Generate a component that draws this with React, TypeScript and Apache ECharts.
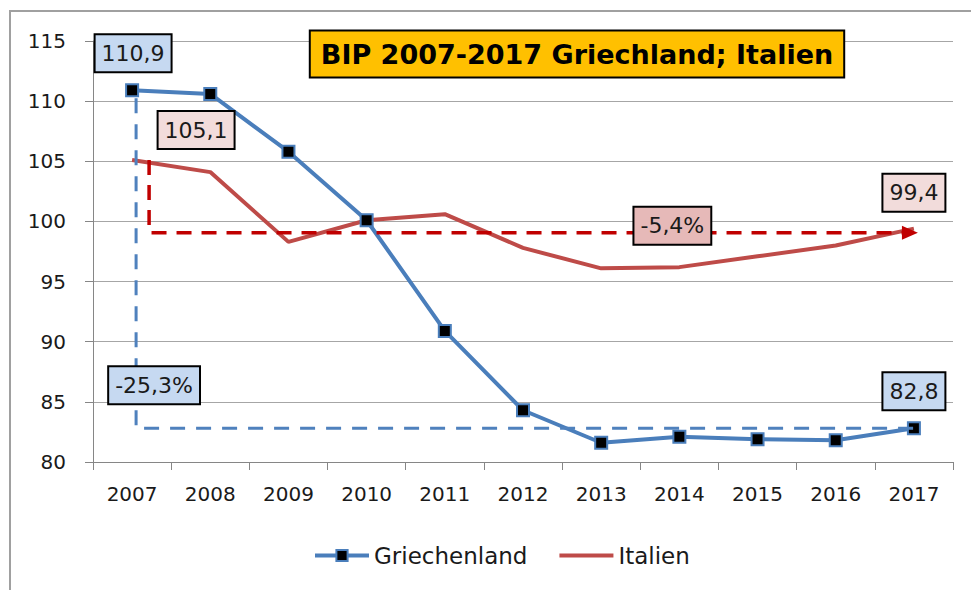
import React, { useEffect, useRef } from "react";
import * as echarts from "echarts";

const years = ["2007", "2008", "2009", "2010", "2011", "2012", "2013", "2014", "2015", "2016", "2017"];
const griechenland = [110.9, 110.6, 105.8, 100.1, 90.9, 84.3, 81.6, 82.1, 81.9, 81.8, 82.8];
const italien = [105.1, 104.1, 98.3, 100.1, 100.6, 97.8, 96.1, 96.2, 97.1, 98.0, 99.4];
const titleText = "BIP 2007-2017 Griechland; Italien";
const changeGR = "-25,3%";
const changeIT = "-5,4%";

const FONT = "'DejaVu Sans', sans-serif";
const BLUE = "#4A7EBB";
const RED = "#BE4B48";
const DASH_BLUE = "#4F81BD";
const DASH_RED = "#C00000";

const fmt = (v: number) => v.toFixed(1).replace(".", ",");

export default function App() {
  const ref = useRef<HTMLDivElement>(null);
  useEffect(() => {
    if (!ref.current) return;
    const chart = echarts.init(ref.current, undefined, { renderer: "svg" });
    chart.setOption({
      animation: false,
      backgroundColor: "#ffffff",
      textStyle: { fontFamily: FONT },
      grid: { left: 93, right: 18, top: 41, bottom: 128 },
      legend: {
        left: 308,
        top: 539,
        itemWidth: 54,
        itemHeight: 14,
        itemGap: 30,
        lineStyle: { width: 4 },
        textStyle: { fontFamily: FONT, fontSize: 23, color: "#1a1a1a" },
        data: [
          { name: "Griechenland" },
          { name: "Italien", itemStyle: { color: "rgba(0,0,0,0)", borderWidth: 0, borderColor: "rgba(0,0,0,0)" } },
        ],
      },
      xAxis: {
        type: "category",
        data: years,
        boundaryGap: true,
        axisLine: { lineStyle: { color: "#868686", width: 1 } },
        axisTick: { show: true, length: 8, lineStyle: { color: "#868686" } },
        axisLabel: { fontFamily: FONT, fontSize: 20, color: "#1a1a1a", margin: 22 },
        splitLine: { show: false },
      },
      yAxis: {
        type: "value",
        min: 80,
        max: 115,
        interval: 5,
        axisLine: { show: true, lineStyle: { color: "#868686", width: 1 } },
        axisTick: { show: true, length: 8, lineStyle: { color: "#868686" } },
        axisLabel: { fontFamily: FONT, fontSize: 20, color: "#1a1a1a", margin: 27 },
        splitLine: { show: true, lineStyle: { color: "#A6A6A6", width: 1 } },
      },
      series: [
        {
          name: "Griechenland",
          type: "line",
          data: griechenland,
          symbol: "rect",
          symbolSize: 12,
          lineStyle: { color: BLUE, width: 4 },
          itemStyle: { color: "#000000", borderColor: BLUE, borderWidth: 2 },
          z: 3,
        },
        {
          name: "Italien",
          type: "line",
          data: italien,
          symbol: "none",
          showSymbol: false,
          lineStyle: { color: RED, width: 4 },
          itemStyle: { color: RED },
          z: 2,
        },
      ],
    });

    const px = (cat: string, v: number) => chart.convertToPixel({ gridIndex: 0 }, [cat, v]) as number[];
    const first = years[0];
    const last = years[years.length - 1];
    const grStart = px(first, griechenland[0]);
    const grEnd = px(last, griechenland[griechenland.length - 1]);
    const itStart = px(first, italien[0]);
    const itEnd = px(last, italien[italien.length - 1]);
    const mid = px(years[7], italien[italien.length - 1]);

    const box = (text: string, cx: number, cy: number, bg: string, size = 22) => ({
      type: "text",
      x: cx,
      y: cy,
      z: 20,
      style: {
        text,
        font: `${size}px ${FONT}`,
        fill: "#1a1a1a",
        align: "center",
        verticalAlign: "middle",
        backgroundColor: bg,
        borderColor: "#000000",
        borderWidth: 2,
        padding: [7, 6, 7, 6],
      },
    });

    const blueX = grStart[0] + 4;
    const redX = itStart[0] + 17;
    const redY = itEnd[1] + 4;

    chart.setOption({
      graphic: [
        {
          type: "rect",
          shape: { x: 10, y: 11, width: 980, height: 600 },
          style: { fill: "none", stroke: "#A0A0A0", lineWidth: 2 },
          silent: true,
          z: 0,
        },
        {
          type: "polyline",
          z: 10,
          shape: { points: [[blueX, grStart[1] + 8], [blueX, grEnd[1]], [grEnd[0], grEnd[1]]] },
          style: { fill: "none", stroke: DASH_BLUE, lineWidth: 3, lineDash: [15, 11] },
        },
        {
          type: "polyline",
          z: 10,
          shape: { points: [[redX, itStart[1]], [redX, redY], [itEnd[0] - 8, redY]] },
          style: { fill: "none", stroke: DASH_RED, lineWidth: 3.5, lineDash: [15, 10] },
        },
        {
          type: "polygon",
          z: 10,
          shape: { points: [[itEnd[0] + 4, redY], [itEnd[0] - 12, redY - 7], [itEnd[0] - 12, redY + 7]] },
          style: { fill: DASH_RED },
        },
        box(fmt(griechenland[0]), grStart[0] + 1, grStart[1] - 37, "#C6D9F1"),
        box(fmt(italien[0]), itStart[0] + 64, itStart[1] - 30, "#F2DCDB"),
        box(fmt(italien[italien.length - 1]), itEnd[0], itEnd[1] - 36, "#F2DCDB"),
        box(changeIT, mid[0] - 7, mid[1] - 3, "#E6B9B8"),
        box(changeGR, grStart[0] + 22, grEnd[1] - 43, "#C6D9F1"),
        box(fmt(griechenland[griechenland.length - 1]), grEnd[0], grEnd[1] - 37, "#C6D9F1"),
        {
          type: "text",
          x: 577,
          y: 54,
          z: 20,
          style: {
            text: titleText,
            font: `bold 27px ${FONT}`,
            fill: "#000000",
            align: "center",
            verticalAlign: "middle",
            backgroundColor: "#FFC000",
            borderColor: "#000000",
            borderWidth: 2,
            padding: [9, 10, 9, 10],
          },
        },
      ],
    });

    return () => chart.dispose();
  }, []);
  return (
    <div
      ref={ref}
      style={{ position: "fixed", left: 0, top: 0, width: 971, height: 590 }}
    />
  );
}
